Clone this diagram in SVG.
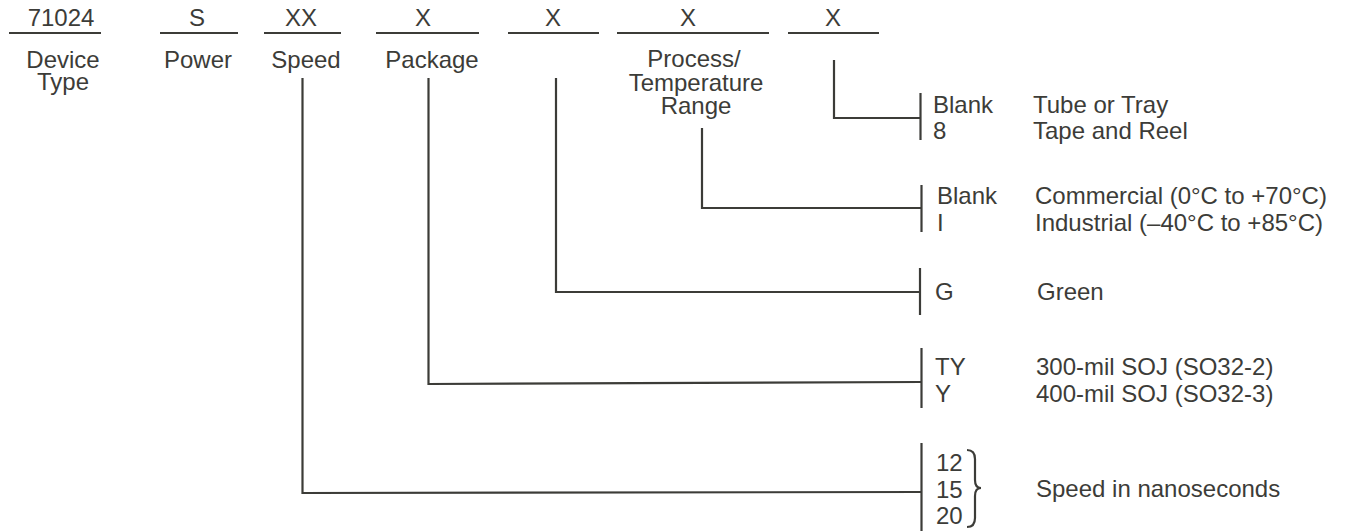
<svg xmlns="http://www.w3.org/2000/svg" width="1354" height="531" viewBox="0 0 1354 531">
<style>
text{font-family:"Liberation Sans",Arial,sans-serif;font-size:24px;fill:#3c3c38}
.c{text-anchor:middle}
line,path,polyline{stroke:#3c3c38;stroke-width:2.2;fill:none}
</style>
<rect width="1354" height="531" fill="#fff"/>
<g id="field-device">
<text class="c" x="61" y="26">71024</text>
<line x1="9" y1="33" x2="101" y2="33"/>
<text class="c" x="63" y="68">Device</text>
<text class="c" x="63" y="90">Type</text>
</g>
<g id="field-power">
<text class="c" x="197" y="26">S</text>
<line x1="160" y1="33" x2="238" y2="33"/>
<text class="c" x="198" y="68">Power</text>
</g>
<g id="field-speed">
<text class="c" x="301" y="26">XX</text>
<line x1="264" y1="33" x2="341" y2="33"/>
<text class="c" x="306" y="68">Speed</text>
</g>
<g id="field-package">
<text class="c" x="423" y="26">X</text>
<line x1="376" y1="33" x2="479" y2="33"/>
<text class="c" x="432" y="68">Package</text>
</g>
<g id="field-green">
<text class="c" x="553" y="26">X</text>
<line x1="508" y1="33" x2="599" y2="33"/>
</g>
<g id="field-process">
<text class="c" x="688" y="26">X</text>
<line x1="617" y1="33" x2="769" y2="33"/>
<text class="c" x="694" y="67">Process/</text>
<text class="c" x="696" y="90.5">Temperature</text>
<text class="c" x="696" y="114">Range</text>
</g>
<g id="field-packing">
<text class="c" x="833" y="26">X</text>
<line x1="788" y1="33" x2="879" y2="33"/>
</g>
<g id="connectors">
<polyline points="834,60 834,118 920,118"/>
<line x1="920.5" y1="93" x2="920.5" y2="140"/>
<polyline points="702,128 702,208 921,208"/>
<line x1="921.5" y1="185" x2="921.5" y2="232"/>
<polyline points="556,78 556,292 920,292"/>
<line x1="920" y1="268" x2="920" y2="315"/>
<polyline points="428.5,78 428.5,384 921,382"/>
<line x1="921.5" y1="348" x2="921.5" y2="408"/>
<polyline points="302.5,78 302.5,493 921,492"/>
<line x1="921.5" y1="443" x2="921.5" y2="531"/>
<path d="M967,450 Q975,450 975,459 L975,480 Q975,488 981,488 Q975,488 975,496 L975,518 Q975,527 967,527"/>
</g>
<g id="opt-packing">
<text x="933" y="113">Blank</text>
<text x="933" y="139">8</text>
<text x="1033" y="113">Tube or Tray</text>
<text x="1033" y="139">Tape and Reel</text>
</g>
<g id="opt-process">
<text x="937" y="204">Blank</text>
<text x="937" y="231">I</text>
<text x="1035" y="204">Commercial (0°C to +70°C)</text>
<text x="1035" y="231">Industrial (–40°C to +85°C)</text>
</g>
<g id="opt-green">
<text x="935" y="300">G</text>
<text x="1037" y="300">Green</text>
</g>
<g id="opt-package">
<text x="935" y="375">TY</text>
<text x="935" y="401.5">Y</text>
<text x="1036" y="375">300-mil SOJ (SO32-2)</text>
<text x="1036" y="401.5">400-mil SOJ (SO32-3)</text>
</g>
<g id="opt-speed">
<text x="936" y="471">12</text>
<text x="936" y="498">15</text>
<text x="936" y="524">20</text>
<text x="1036" y="497">Speed in nanoseconds</text>
</g>
</svg>
